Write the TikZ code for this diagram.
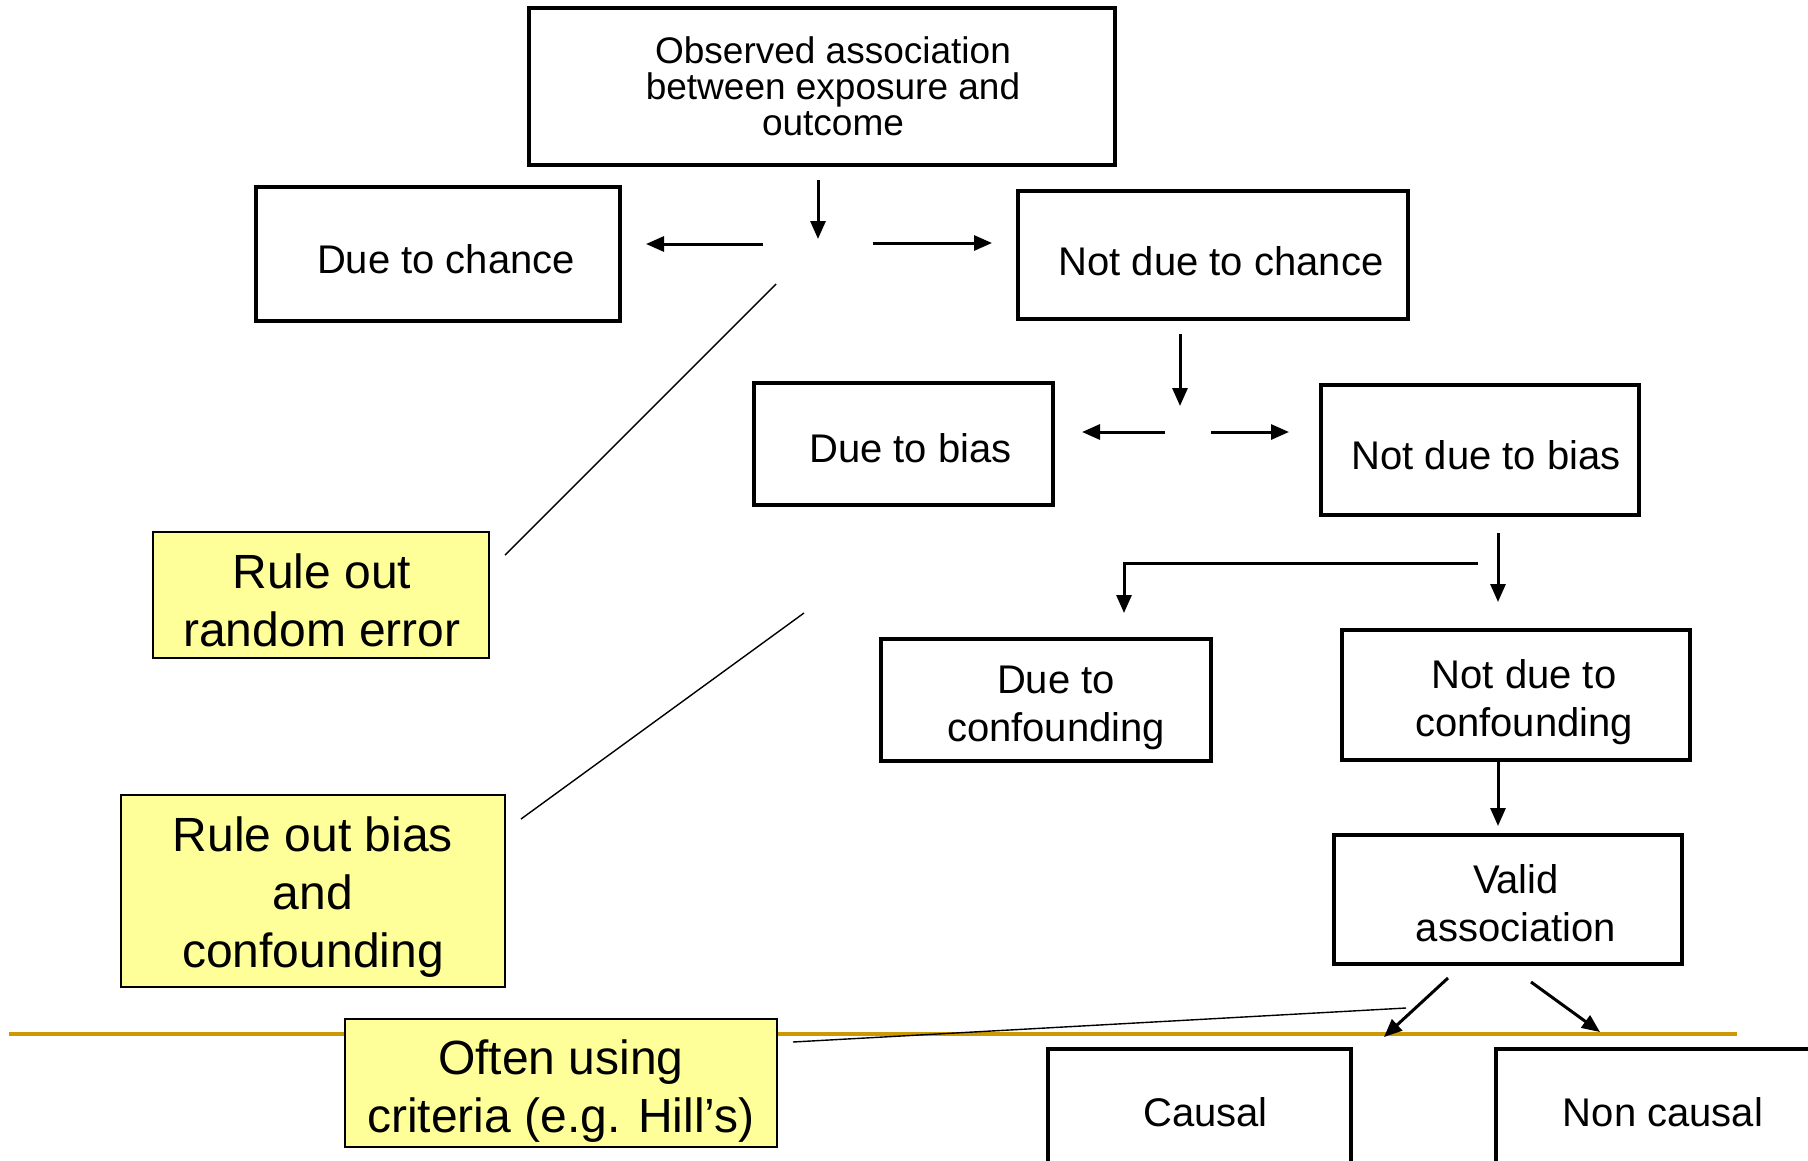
\documentclass[tikz,border=0pt]{standalone}
\usepackage{fontspec}
\setmainfont{Liberation Sans}
\usetikzlibrary{arrows.meta}
\definecolor{noteyellow}{HTML}{FFFF99}
\definecolor{rulegold}{HTML}{CC9900}
\begin{document}
\begin{tikzpicture}[x=1pt,y=-1pt,
  box/.style={draw, line width=3.5pt, inner sep=0pt},
  note/.style={draw, line width=2pt, fill=noteyellow, inner sep=0pt},
  boxtext/.style={inner sep=0pt, align=center, font=\fontsize{40}{48}\selectfont},
  notetext/.style={inner sep=0pt, align=center, font=\fontsize{48}{58}\selectfont},
  arr/.style={line width=3pt, -{Triangle[length=18pt,width=15pt]}},
  elbow/.style={line width=3pt},
  link/.style={line width=1.4pt},
  rulebar/.style={draw=rulegold, line width=4pt}]
\useasboundingbox (0,0) rectangle (1808,1160);
\clip (0,0) rectangle (1808,1160);
\fill[white] (0,0) rectangle (1808,1160);

% boxes
\node[box, minimum width=586pt, minimum height=157pt] (obs) at (822,86.5) {};
\node[boxtext, font=\fontsize{37}{36}\selectfont] (obs-t) at ([shift={(11,0)}]obs.center)
  {Observed association\\between exposure and\\outcome};
\node[box, minimum width=364pt, minimum height=134pt] (chance) at (438,254) {};
\node[boxtext] (chance-t) at ([shift={(8,5)}]chance.center) {Due to chance};
\node[box, minimum width=390pt, minimum height=128pt] (notchance) at (1213,255) {};
\node[boxtext] (notchance-t) at ([shift={(8,6)}]notchance.center) {Not due to chance};
\node[box, minimum width=299pt, minimum height=122pt] (bias) at (903.5,444) {};
\node[boxtext] (bias-t) at ([shift={(7,4)}]bias.center) {Due to bias};
\node[box, minimum width=318pt, minimum height=130pt] (notbias) at (1480,450) {};
\node[boxtext] (notbias-t) at ([shift={(6,5)}]notbias.center) {Not due to bias};
\node[box, minimum width=330pt, minimum height=122pt] (conf) at (1046,700) {};
\node[boxtext] (conf-t) at ([shift={(10,8)}]conf.center) {Due to\\confounding};
\node[box, minimum width=348pt, minimum height=130pt] (notconf) at (1516,695) {};
\node[boxtext] (notconf-t) at ([shift={(8,7)}]notconf.center) {Not due to\\confounding};
\node[box, minimum width=348pt, minimum height=129pt] (valid) at (1508,899.5) {};
\node[boxtext] (valid-t) at ([shift={(8,4)}]valid.center) {Valid\\association};

% gold rule
\draw[rulebar] (9,1034) -- (1737,1034);

\node[box, minimum width=303pt, minimum height=122pt] (causal) at (1199.5,1110) {};
\node[boxtext] (causal-t) at ([shift={(6,2)}]causal.center) {Causal};
\node[box, minimum width=334pt, minimum height=122pt] (noncausal) at (1663,1110) {};
\node[boxtext] (noncausal-t) at ([shift={(0,2)}]noncausal.center) {Non causal};

% notes
\node[note, minimum width=336pt, minimum height=126pt] (rre) at (321,595) {};
\node[notetext] (rre-t) at ([shift={(1,5)}]rre.center) {Rule out\\random error};
\node[note, minimum width=384pt, minimum height=192pt] (rbc) at (313,891) {};
\node[notetext] (rbc-t) at ([shift={(0,6)}]rbc.center) {Rule out bias\\and\\confounding};
\node[note, minimum width=432pt, minimum height=128pt] (often) at (561,1083) {};
\node[notetext] (often-t) at ([shift={(0,8)}]often.center) {Often using\\criteria (e.g. Hill’s)};

% coordinates for arrow ends
\coordinate (a1s) at (818,180);  \coordinate (a1e) at (818,239);
\coordinate (a2s) at (763,244);  \coordinate (a2e) at (646,244);
\coordinate (a3s) at (873,243);  \coordinate (a3e) at (992,243);
\coordinate (b1s) at (1180,334); \coordinate (b1e) at (1180,406);
\coordinate (b2s) at (1165,432); \coordinate (b2e) at (1082,432);
\coordinate (b3s) at (1211,432); \coordinate (b3e) at (1289,432);
\coordinate (c1s) at (1498,533); \coordinate (c1e) at (1498,602);
\coordinate (c2s) at (1478,563); \coordinate (c2e) at (1124,613);
\coordinate (d1s) at (1498,761); \coordinate (d1e) at (1498,826);
\coordinate (e1s) at (1448,978); \coordinate (e1e) at (1384,1037);
\coordinate (e2s) at (1531,982); \coordinate (e2e) at (1600,1032);
\coordinate (l1s) at (776,284);  \coordinate (l1e) at (505,555);
\coordinate (l2s) at (804,613);  \coordinate (l2e) at (521,819);
\coordinate (l3s) at (1406,1008); \coordinate (l3e) at (793,1042);

% arrows
\draw[arr] (a1s) -- (a1e);
\draw[arr] (a2s) -- (a2e);
\draw[arr] (a3s) -- (a3e);
\draw[arr] (b1s) -- (b1e);
\draw[arr] (b2s) -- (b2e);
\draw[arr] (b3s) -- (b3e);
\draw[arr] (c1s) -- (c1e);
\draw[elbow] (c2s) -- (c2s -| c2e);
\draw[arr] ([yshift=1.5pt]c2s -| c2e) -- (c2e);
\draw[arr] (d1s) -- (d1e);
\draw[arr] (e1s) -- (e1e);
\draw[arr] (e2s) -- (e2e);

% thin links
\draw[link] (l1s) -- (l1e);
\draw[link] (l2s) -- (l2e);
\draw[link] (l3s) -- (l3e);
\end{tikzpicture}
\end{document}
